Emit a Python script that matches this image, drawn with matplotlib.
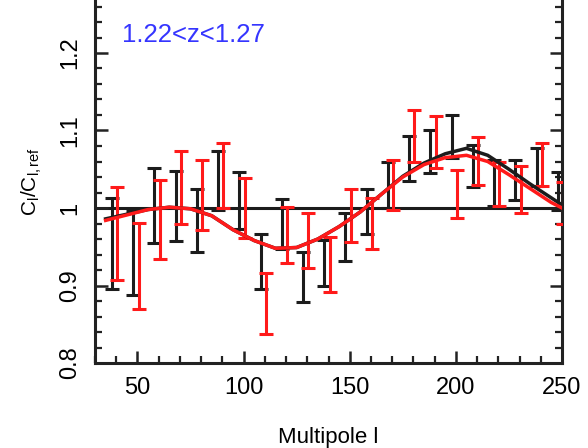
import matplotlib
matplotlib.use('Agg')
import matplotlib.pyplot as plt
import numpy as np
from matplotlib.ticker import MultipleLocator

plt.rcParams['font.family'] = ['Liberation Sans', 'DejaVu Sans']
plt.rcParams['mathtext.fontset'] = 'custom'
plt.rcParams['mathtext.rm'] = 'Liberation Sans'
plt.rcParams['mathtext.it'] = 'Liberation Sans'

# measured band powers (black) and second estimate (red), multipoles every 10
l_black = np.arange(38, 250, 10)
cl_black = [0.954, 0.942, 1.003, 1.003, 0.984, 1.035, 1.010, 0.931, 0.979, 0.911, 0.929,
            0.963, 0.996, 1.030, 1.064, 1.073, 1.092, 1.054, 1.032, 1.036, 1.053, 1.022]
err_black = [0.059, 0.054, 0.048, 0.045, 0.041, 0.038, 0.037, 0.035, 0.032, 0.032, 0.030,
             0.031, 0.029, 0.030, 0.029, 0.028, 0.028, 0.027, 0.030, 0.026, 0.025, 0.025]

l_red = np.arange(40.5, 252, 10)
cl_red = [0.967, 0.925, 0.985, 1.026, 1.017, 1.042, 1.000, 0.877, 0.965, 0.958, 0.927,
          0.990, 0.980, 1.030, 1.093, 1.085, 1.018, 1.061, 1.031, 1.024, 1.056, 1.007]
err_red = [0.060, 0.055, 0.051, 0.047, 0.045, 0.042, 0.039, 0.039, 0.036, 0.035, 0.035,
           0.034, 0.033, 0.032, 0.033, 0.034, 0.031, 0.031, 0.029, 0.030, 0.028, 0.027]

# model curves
l_model = [35, 45, 55, 65, 75, 85, 95, 105, 115, 125, 135, 145, 155, 165, 175, 185,
           195, 205, 215, 225, 235, 245, 250]
model_black = [0.986, 0.992, 0.998, 1.001, 0.999, 0.990, 0.972, 0.958, 0.948, 0.949,
               0.960, 0.976, 0.995, 1.018, 1.041, 1.058, 1.070, 1.077, 1.068, 1.050,
               1.031, 1.013, 1.004]
model_red = [0.984, 0.991, 0.998, 1.001, 0.999, 0.990, 0.972, 0.958, 0.948, 0.949,
             0.960, 0.976, 0.995, 1.018, 1.040, 1.056, 1.065, 1.068, 1.060, 1.043,
             1.025, 1.007, 1.000]

black = '#1c1c1c'
red = '#ff1a1a'

fig = plt.figure(figsize=(5.88, 4.48), dpi=100)
ax = fig.add_axes([95 / 588, 1 - 363 / 448, 467 / 588, 363 / 448])

ax.axhline(1.0, color=black, lw=2.2, zorder=1)
ax.errorbar(l_black, cl_black, yerr=err_black, fmt='none', ecolor=black,
            elinewidth=2.2, capsize=5, capthick=2.2, zorder=2)
ax.errorbar(l_red, cl_red, yerr=err_red, fmt='none', ecolor=red,
            elinewidth=2.2, capsize=5, capthick=2.2, zorder=3)
ax.plot(l_model, model_black, color=black, lw=2.5, zorder=4)
ax.plot(l_model, model_red, color=red, lw=2.5, zorder=5)

ax.set_xlim(30, 250)
ax.set_ylim(0.8, 1.0 + 208 / 775)

ax.xaxis.set_major_locator(MultipleLocator(50))
ax.xaxis.set_minor_locator(MultipleLocator(10))
ax.yaxis.set_major_locator(MultipleLocator(0.1))
ax.yaxis.set_minor_locator(MultipleLocator(0.02))
ax.set_yticks([0.8, 0.9, 1.0, 1.1, 1.2])
ax.set_yticklabels(['0.8', '0.9', '1', '1.1', '1.2'])

ax.tick_params(which='both', direction='in', right=True, top=False, color='#222222')
ax.tick_params(which='major', length=9, width=1.8, labelsize=17)
ax.tick_params(which='minor', length=5, width=1.6)
ax.tick_params(axis='x', pad=10)
ax.tick_params(axis='y', pad=10, labelrotation=90)
for lab in ax.get_yticklabels():
    lab.set_va('center')

for side in ['left', 'right', 'bottom']:
    ax.spines[side].set_linewidth(2.2)
    ax.spines[side].set_color('#222222')
ax.spines['top'].set_visible(False)

ax.set_xlabel('Multipole l', fontsize=16, labelpad=20)
ax.set_ylabel(r'C$_{\rm l}$/C$_{\rm l,ref}$', fontsize=15)
ax.yaxis.set_label_coords(-0.11, 0.5)

ax.text(0.058, 0.904, '1.22<z<1.27', transform=ax.transAxes, color='#3535ff',
        fontsize=18.5, va='center', ha='left')

fig.savefig('out.png', dpi=100)
